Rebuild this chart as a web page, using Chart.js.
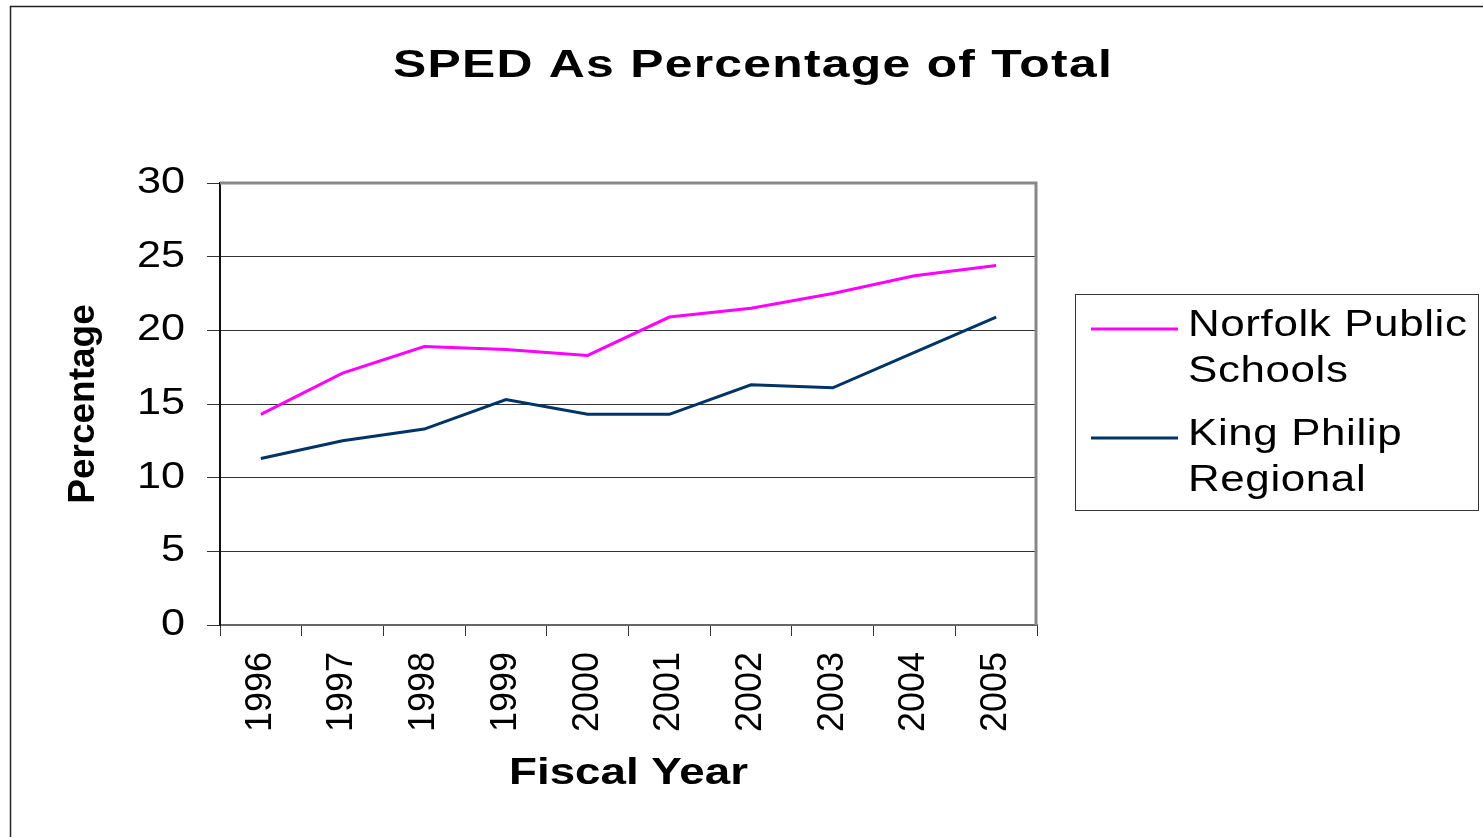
<!DOCTYPE html>
<html>
<head>
<meta charset="utf-8">
<script src="https://cdn.jsdelivr.net/npm/chart.js@4/dist/chart.umd.min.js"></script>
<style>
  html, body { margin: 0; padding: 0; background: #fff; }
  #wrap { width: 1483px; height: 837px; position: relative; }
</style>
</head>
<body>
<div id="wrap"><canvas id="c" width="1483" height="837"></canvas></div>
<script>
const chartTitle = 'SPED As Percentage of Total';
const xTitle = 'Fiscal Year';
const yTitle = 'Percentage';
const years = ['1996', '1997', '1998', '1999', '2000', '2001', '2002', '2003', '2004', '2005'];
const seriesNames = ['Norfolk Public Schools', 'King Philip Regional'];
const norfolk = [14.3, 17.1, 18.9, 18.7, 18.3, 20.9, 21.5, 22.5, 23.7, 24.4];
const kingPhilip = [11.3, 12.5, 13.3, 15.3, 14.3, 14.3, 16.3, 16.1, 18.5, 20.9];
const yMin = 0, yMax = 30, yStep = 5;
const colors = ['#FF00FF', '#003366'];

const FONT = '"Liberation Sans", Arial, sans-serif';
const STRETCH = 1.22;

function wrapWords(ctx, text, maxW) {
  const words = text.split(' ');
  const lines = [];
  let cur = '';
  for (const w of words) {
    const t = cur ? cur + ' ' + w : w;
    if (cur && ctx.measureText(t).width > maxW) { lines.push(cur); cur = w; }
    else cur = t;
  }
  if (cur) lines.push(cur);
  return lines;
}

const decor = {
  id: 'decor',
  beforeDraw(chart) {
    const ctx = chart.ctx;
    ctx.save();
    ctx.fillStyle = '#fff';
    ctx.fillRect(0, 0, chart.width, chart.height);
    ctx.restore();
  },
  beforeDatasetsDraw(chart) {
    const ctx = chart.ctx, a = chart.chartArea;
    ctx.save();
    ctx.strokeStyle = '#888';
    ctx.lineWidth = 3;
    ctx.beginPath();
    ctx.moveTo(a.left, a.top);
    ctx.lineTo(a.right - 1, a.top);
    ctx.lineTo(a.right - 1, a.bottom);
    ctx.stroke();
    ctx.restore();
  },
  afterDraw(chart) {
    const ctx = chart.ctx;
    ctx.save();
    // outer frame
    ctx.strokeStyle = '#222';
    ctx.lineWidth = 1.5;
    ctx.strokeRect(10.5, 6.5, 1500, 900);
    // title (stretched horizontally to the reference width)
    ctx.fillStyle = '#000';
    ctx.font = 'bold 39px ' + FONT;
    ctx.textBaseline = 'alphabetic';
    ctx.textAlign = 'center';
    ctx.letterSpacing = '1px';
    const w0 = ctx.measureText(chartTitle).width;
    const sx = 720 / w0;
    ctx.save();
    ctx.translate(753, 77);
    ctx.scale(sx, 1);
    ctx.fillText(chartTitle, 0, 0);
    ctx.restore();
    ctx.letterSpacing = '0px';
    // legend
    const lx = 1075.5, ly = 294.5, lw = 403, lh = 216;
    ctx.strokeStyle = '#333';
    ctx.lineWidth = 1;
    ctx.strokeRect(lx, ly, lw, lh);
    ctx.font = '36px ' + FONT;
    ctx.textAlign = 'left';
    ctx.letterSpacing = '0.5px';
    let base = 336;
    chart.data.datasets.forEach((ds, i) => {
      const lines = wrapWords(ctx, ds.label, 285 / STRETCH);
      ctx.strokeStyle = ds.borderColor;
      ctx.lineWidth = 3;
      ctx.beginPath();
      ctx.moveTo(1091, base - 7);
      ctx.lineTo(1178, base - 7);
      ctx.stroke();
      ctx.fillStyle = '#000';
      lines.forEach((ln, j) => {
        ctx.save();
        ctx.translate(1188, base + j * 46);
        ctx.scale(STRETCH, 1);
        ctx.fillText(ln, 0, 0);
        ctx.restore();
      });
      base += lines.length * 46 + 17;
    });
    ctx.restore();
  }
};

new Chart(document.getElementById('c'), {
  type: 'line',
  data: {
    labels: years,
    datasets: [
      { label: seriesNames[0], data: norfolk, borderColor: colors[0], backgroundColor: colors[0], borderWidth: 3, pointRadius: 0, tension: 0 },
      { label: seriesNames[1], data: kingPhilip, borderColor: colors[1], backgroundColor: colors[1], borderWidth: 3, pointRadius: 0, tension: 0 }
    ]
  },
  options: {
    responsive: false,
    animation: false,
    events: [],
    layout: { padding: { top: 183, right: 446, left: 0, bottom: 0 } },
    plugins: { legend: { display: false }, title: { display: false }, tooltip: { enabled: false } },
    scales: {
      x: {
        offset: true,
        afterFit(scale) {
          scale.height = 212;
          if (!scale._stPatched) {
            const orig = scale.drawTitle;
            scale.drawTitle = function () {
              const cx = (this.left + this.right) / 2;
              this.ctx.save();
              this.ctx.translate(cx, 0);
              this.ctx.scale(1.27, 1);
              this.ctx.translate(-cx, 0);
              orig.apply(this, arguments);
              this.ctx.restore();
            };
            scale._stPatched = true;
          }
        },
        grid: { offset: true, drawOnChartArea: false, drawTicks: true, tickLength: 11, color: '#333', lineWidth: 1 },
        border: { display: true, color: '#666', width: 2 },
        ticks: {
          color: '#000', font: { family: FONT, size: 36 }, minRotation: 90, maxRotation: 90, autoSkip: false, padding: 16
        },
        title: { display: true, text: xTitle, color: '#000', font: { family: FONT, size: 36, weight: 'bold' }, padding: { top: 0, bottom: 41 } }
      },
      y: {
        min: yMin, max: yMax,
        afterFit(scale) {
          scale.width = 220;
          if (!scale._stPatched) {
            const orig = scale.drawLabels;
            scale.drawLabels = function () {
              const rx = this.right - 35;
              this.ctx.save();
              this.ctx.translate(rx, 0);
              this.ctx.scale(1.2, 1);
              this.ctx.translate(-rx, 0);
              orig.apply(this, arguments);
              this.ctx.restore();
            };
            scale._stPatched = true;
          }
        },
        grid: { color: '#333', lineWidth: 1, tickLength: 13, drawTicks: true },
        border: { display: true, color: '#111', width: 2 },
        ticks: { stepSize: yStep, color: '#000', font: { family: FONT, size: 36 }, padding: 22 },
        title: { display: true, text: yTitle, color: '#000', font: { family: FONT, size: 37, weight: 'bold' }, padding: { top: 62, bottom: 0 } }
      }
    }
  },
  plugins: [decor]
});
</script>
</body>
</html>
